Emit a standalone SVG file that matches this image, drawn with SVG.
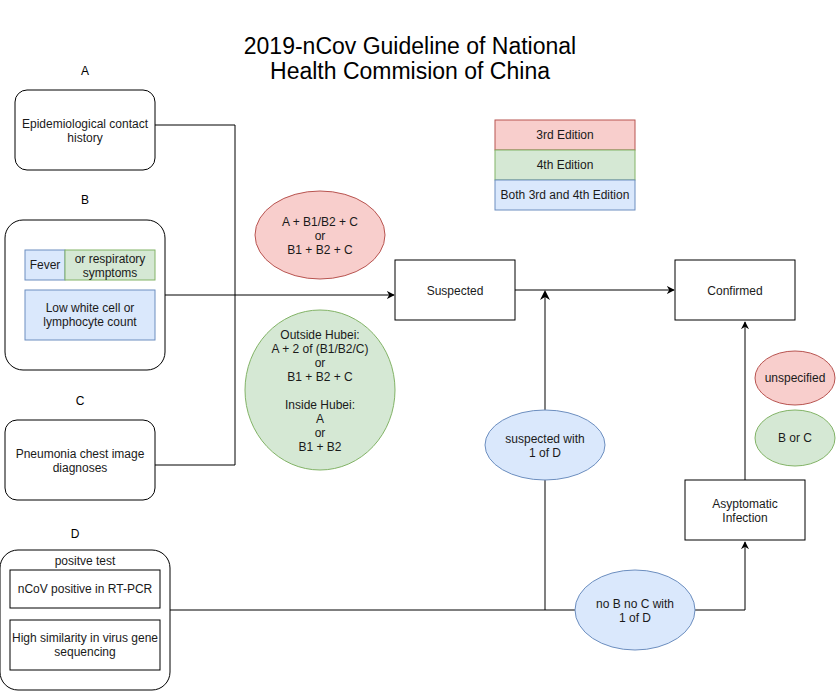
<svg xmlns="http://www.w3.org/2000/svg" width="836" height="691" viewBox="0 0 836 691">
<style>
text{font-family:"Liberation Sans",Arial,sans-serif;font-size:12px;fill:#1a1a1a;text-anchor:middle}
.title{font-size:23px;fill:#000}
.lbl{font-size:12px;fill:#000}
.box{fill:#fff;stroke:#000;stroke-width:1}
.red{fill:#f8cecc;stroke:#b85450;stroke-width:1}
.green{fill:#d5e8d4;stroke:#82b366;stroke-width:1}
.blue{fill:#dae8fc;stroke:#6c8ebf;stroke-width:1}
.edge{fill:none;stroke:#000;stroke-width:1}
.gray{fill:none;stroke:#808080;stroke-width:2}
</style>
<defs>
<marker id="arr" viewBox="0 0 10 10" refX="9" refY="5" markerWidth="8" markerHeight="8" markerUnits="userSpaceOnUse" orient="auto">
<path d="M0,0 L10,5 L0,10 L3,5 Z" fill="#000"/>
</marker>
</defs>
<rect width="836" height="691" fill="#fff"/>
<g id="title">
<text class="title" x="410" y="54">2019-nCov Guideline of National</text>
<text class="title" x="410" y="79">Health Commision of China</text>
</g>
<g id="connectors">
<polyline class="edge" points="155,125 235,125 235,465 155,465"/>
<line class="edge" x1="165" y1="295" x2="394" y2="295" marker-end="url(#arr)"/>
<line class="edge" x1="515" y1="290" x2="674" y2="290" marker-end="url(#arr)"/>
<line class="gray" x1="545" y1="610" x2="545" y2="297"/>
<path d="M540,300 L545,290 L550,300 L545,297 Z" fill="#000"/>
<line class="edge" x1="170" y1="610" x2="575" y2="610"/>
<polyline class="edge" points="695,610 745,610 745,542" marker-end="url(#arr)"/>
<line class="edge" x1="745" y1="480" x2="745" y2="322" marker-end="url(#arr)"/>
</g>
<g id="labelA"><text class="lbl" x="85" y="75">A</text></g>
<g id="nodeA">
<rect class="box" x="15" y="90" width="140" height="80" rx="12"/>
<text x="85" y="128">Epidemiological contact</text>
<text x="85" y="142">history</text>
</g>
<g id="labelB"><text class="lbl" x="85" y="204">B</text></g>
<g id="nodeB">
<rect class="box" x="5" y="220" width="160" height="150" rx="18"/>
<rect class="blue" x="25" y="250" width="40" height="30"/>
<text x="45" y="269">Fever</text>
<rect class="green" x="65" y="250" width="90" height="30"/>
<text x="110" y="263">or respiratory</text>
<text x="110" y="277">symptoms</text>
<rect class="blue" x="25" y="290" width="130" height="50"/>
<text x="90" y="312">Low white cell or</text>
<text x="90" y="326">lymphocyte count</text>
</g>
<g id="labelC"><text class="lbl" x="80" y="405">C</text></g>
<g id="nodeC">
<rect class="box" x="5" y="420" width="150" height="80" rx="12"/>
<text x="80" y="458">Pneumonia chest image</text>
<text x="80" y="472">diagnoses</text>
</g>
<g id="labelD"><text class="lbl" x="75" y="538">D</text></g>
<g id="nodeD">
<rect class="box" x="0" y="550" width="170" height="140" rx="18"/>
<text x="85" y="565">positve test</text>
<rect class="box" x="10" y="570" width="150" height="38"/>
<text x="85" y="593">nCoV positive in RT-PCR</text>
<rect class="box" x="10" y="620" width="150" height="50"/>
<text x="85" y="642">High similarity in virus gene</text>
<text x="85" y="656">sequencing</text>
</g>
<g id="legend">
<rect class="red" x="495" y="120" width="140" height="30"/>
<text x="565" y="139">3rd Edition</text>
<rect class="green" x="495" y="150" width="140" height="30"/>
<text x="565" y="169">4th Edition</text>
<rect class="blue" x="495" y="180" width="140" height="30"/>
<text x="565" y="199">Both 3rd and 4th Edition</text>
</g>
<g id="cond3rd">
<ellipse class="red" cx="320" cy="235" rx="65" ry="44"/>
<text x="320" y="226">A + B1/B2 + C</text>
<text x="320" y="240">or</text>
<text x="320" y="254">B1 + B2 + C</text>
</g>
<g id="cond4th">
<ellipse class="green" cx="320" cy="390" rx="75" ry="80"/>
<text x="320" y="339">Outside Hubei:</text>
<text x="320" y="353">A + 2 of (B1/B2/C)</text>
<text x="320" y="367">or</text>
<text x="320" y="381">B1 + B2 + C</text>
<text x="320" y="409">Inside Hubei:</text>
<text x="320" y="423">A</text>
<text x="320" y="437">or</text>
<text x="320" y="451">B1 + B2</text>
</g>
<g id="suspected">
<rect class="box" x="395" y="260" width="120" height="60"/>
<text x="455" y="295">Suspected</text>
</g>
<g id="confirmed">
<rect class="box" x="675" y="260" width="120" height="60"/>
<text x="735" y="295">Confirmed</text>
</g>
<g id="suspectedD">
<ellipse class="blue" cx="545" cy="445" rx="60" ry="35"/>
<text x="545" y="443">suspected with</text>
<text x="545" y="457">1 of D</text>
</g>
<g id="noBnoC">
<ellipse class="blue" cx="635" cy="610" rx="60" ry="40"/>
<text x="635" y="608">no B no C with</text>
<text x="635" y="622">1 of D</text>
</g>
<g id="asymptomatic">
<rect class="box" x="685" y="480" width="120" height="60"/>
<text x="745" y="508">Asyptomatic</text>
<text x="745" y="522">Infection</text>
</g>
<g id="unspecified">
<ellipse class="red" cx="795" cy="378" rx="40" ry="27"/>
<text x="795" y="382">unspecified</text>
</g>
<g id="BorC">
<ellipse class="green" cx="795" cy="438" rx="40" ry="28"/>
<text x="795" y="442">B or C</text>
</g>
</svg>
